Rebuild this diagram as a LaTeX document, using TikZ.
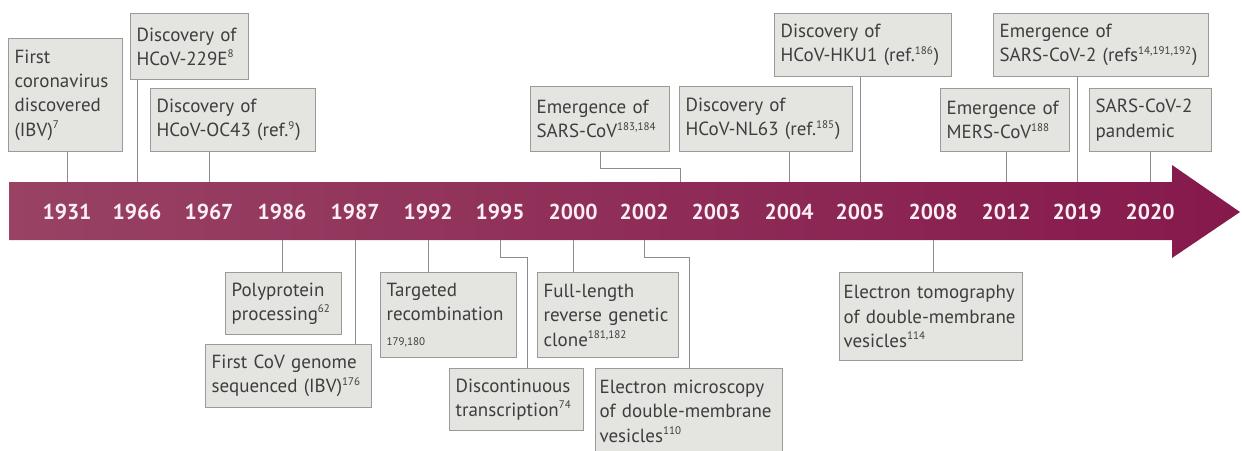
\documentclass[tikz,border=0pt]{standalone}
\usepackage{fontspec}
\setmainfont{PT Sans}
\usepackage{tikz}
\usetikzlibrary{calc}

\definecolor{boxfill}{HTML}{E4E4E1}
\definecolor{boxline}{HTML}{9A9A9A}
\definecolor{boxtext}{HTML}{3E3E3E}
\definecolor{connline}{HTML}{8C8C8C}
\definecolor{bandL}{HTML}{984264}
\definecolor{bandR}{HTML}{86194C}
\definecolor{yeartext}{HTML}{FBEFF3}
\newcommand{\rf}[1]{\textsuperscript{\fontsize{5.5}{6}\selectfont #1}}
\hyphenpenalty=10000
\exhyphenpenalty=10000

\begin{document}
\begin{tikzpicture}[x=0.5pt,y=-0.5pt,
  box/.style={draw=boxline,line width=0.6pt,fill=boxfill,text=boxtext,align=left,
    anchor=north west,inner xsep=3pt,inner ysep=2pt,font=\fontsize{9.5}{12.2}\selectfont},
  yr/.style={text=yeartext,font=\fontsize{10.8}{12}\selectfont\bfseries},
  conn/.style={draw=connline,line width=0.5pt}]
  \useasboundingbox (0,0) rectangle (1242,450);
  % the time arrow
  \shade[left color=bandL,right color=bandR]
    (9,182) -- (1172,182) -- (1172,165) -- (1240,212) -- (1172,258)
    -- (1172,240) -- (9,240) -- cycle;
  \coordinate (top) at (0,182);
  \coordinate (bot) at (0,240);
  % years
  \node[yr] (y1931) at (67,212) {1931};
  \node[yr] (y1966) at (137,212) {1966};
  \node[yr] (y1967) at (209,212) {1967};
  \node[yr] (y1986) at (282,212) {1986};
  \node[yr] (y1987) at (355,212) {1987};
  \node[yr] (y1992) at (428,212) {1992};
  \node[yr] (y1995) at (500,212) {1995};
  \node[yr] (y2000) at (573,212) {2000};
  \node[yr] (y2002) at (644,212) {2002};
  \node[yr] (y2003) at (716,212) {2003};
  \node[yr] (y2004) at (789,212) {2004};
  \node[yr] (y2005) at (860,212) {2005};
  \node[yr] (y2008) at (933,212) {2008};
  \node[yr] (y2012) at (1006,212) {2012};
  \node[yr] (y2019) at (1077,212) {2019};
  \node[yr] (y2020) at (1150,212) {2020};
  \coordinate (mid0203) at ($(y2002)!0.5!(y2003)$);
  % events above the arrow
  \node[box,text width=51pt,minimum height=56.5pt] (ibv) at (8,38)
    {First\\coronavirus\\discovered\\(IBV)\rf{7}};
  \node[box,text width=53pt,minimum height=33pt] (e229) at (130,13)
    {Discovery of\\HCoV-229E\rf{8}};
  \node[box,text width=76.5pt,minimum height=31.5pt] (oc43) at (150,88)
    {Discovery of\\HCoV-OC43 (ref.\rf{9})};
  \node[box,text width=63.5pt,minimum height=32.5pt] (sars) at (530,86)
    {Emergence of\\SARS-CoV\rf{183,184}};
  \node[box,text width=80.5pt,minimum height=32.5pt] (nl63) at (679,86)
    {Discovery of\\HCoV-NL63 (ref.\rf{185})};
  \node[box,text width=82.5pt,minimum height=31.5pt] (hku1) at (774,13)
    {Discovery of\\HCoV-HKU1 (ref.\rf{186})};
  \node[box,text width=58.5pt,minimum height=31.5pt] (mers) at (940,88)
    {Emergence of\\MERS-CoV\rf{188}};
  \node[box,text width=101.5pt,minimum height=31.5pt] (sars2) at (993,13)
    {Emergence of\\SARS-CoV-2 (refs\rf{14,191,192})};
  \node[box,text width=55pt,minimum height=31.5pt] (pand) at (1089,88)
    {SARS-CoV-2\\pandemic};
  % events below the arrow
  \node[box,text width=52pt,minimum height=31pt] (poly) at (225,272)
    {Polyprotein\\processing\rf{62}};
  \node[box,text width=77pt,minimum height=31.5pt] (genome) at (205,344)
    {First CoV genome\\sequenced (IBV)\rf{176}};
  \node[box,text width=62pt,minimum height=42.5pt] (recomb) at (380,272)
    {Targeted\\recombination\\{\fontsize{5.5}{7}\selectfont 179,180}};
  \node[box,text width=61pt,minimum height=31pt] (discont) at (449,368)
    {Discontinuous\\transcription\rf{74}};
  \node[box,text width=64.5pt,minimum height=42.5pt] (clone) at (537,272)
    {Full-length\\reverse genetic\\clone\rf{181,182}};
  \node[box,inner xsep=2pt,text width=89.5pt,minimum height=42.5pt] (micro) at (595,368)
    {Electron microscopy\\of double-membrane\\vesicles\rf{110}};
  \node[box,inner xsep=2pt,text width=87.5pt,minimum height=44pt] (tomo) at (839,272)
    {Electron tomography\\of double-membrane\\vesicles\rf{114}};
  % connectors
  \draw[conn] (ibv.south -| y1931) -- (y1931 |- top);
  \draw[conn] (e229.south -| y1966) -- (y1966 |- top);
  \draw[conn] (oc43.south -| y1967) -- (y1967 |- top);
  \draw[conn] (sars.south) -- ++(0,16) -| (mid0203 |- top);
  \draw[conn] (nl63.south -| y2004) -- (y2004 |- top);
  \draw[conn] (hku1.south -| y2005) -- (y2005 |- top);
  \draw[conn] (mers.south -| y2012) -- (y2012 |- top);
  \draw[conn] (sars2.south -| y2019) -- (y2019 |- top);
  \draw[conn] (pand.south -| y2020) -- (y2020 |- top);
  \draw[conn] (y1986 |- bot) -- (poly.north -| y1986);
  \draw[conn] (y1987 |- bot) -- (genome.north -| y1987);
  \draw[conn] (y1992 |- bot) -- (recomb.north -| y1992);
  \draw[conn] (y1995 |- bot) -- ++(0,17) -| ([xshift=5.5pt]discont.north);
  \draw[conn] (y2000 |- bot) -- (clone.north -| y2000);
  \draw[conn] (y2002 |- bot) -- ++(0,17) -| (micro.north);
  \draw[conn] (y2008 |- bot) -- (tomo.north -| y2008);
\end{tikzpicture}
\end{document}
